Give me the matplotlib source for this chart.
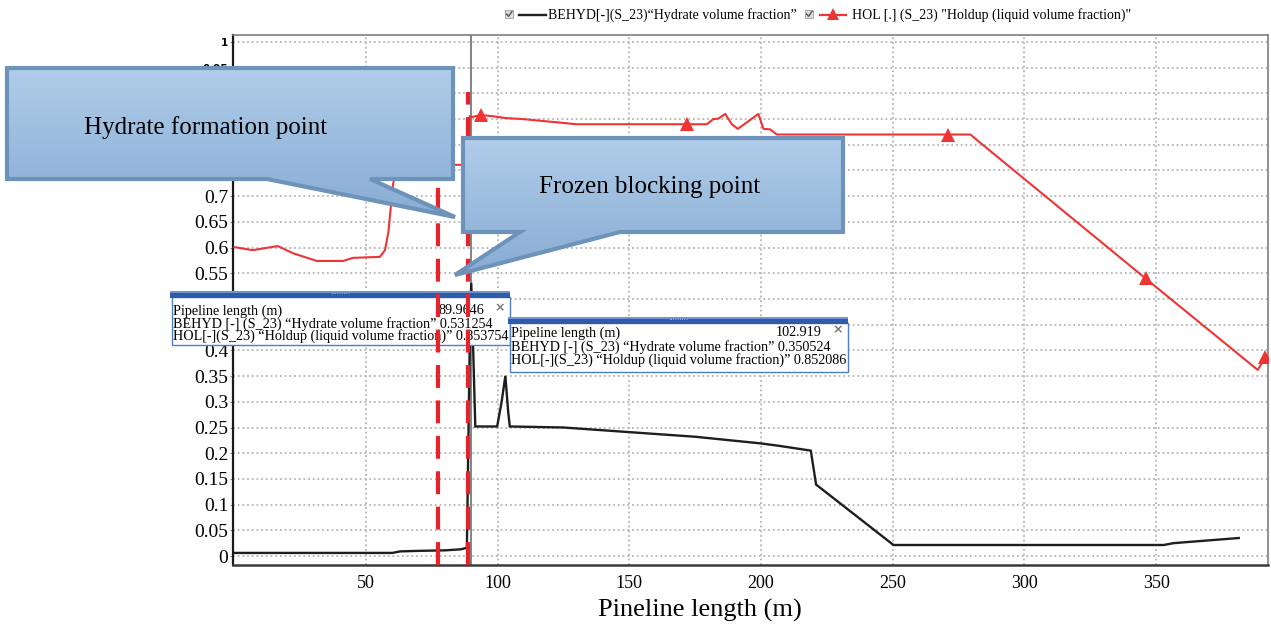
import numpy as np
import matplotlib
matplotlib.use("Agg")
import matplotlib.pyplot as plt
from matplotlib.patches import Polygon, Rectangle

# ---------------- data ----------------
beh_x = [0, 30, 60, 63, 70, 80, 86, 88.3, 89.5, 89.9646, 90.6, 91.5, 99.8, 101.5,
         102.919, 104.0, 104.6, 125, 150, 175, 200, 207.3, 218.9, 220.9, 250.3,
         352.9, 356.6, 381.4]
beh_y = [0.006, 0.006, 0.006, 0.009, 0.010, 0.011, 0.013, 0.016, 0.45, 0.531254, 0.42,
         0.252, 0.252, 0.30, 0.350524, 0.28, 0.252, 0.250, 0.241, 0.232, 0.219,
         0.214, 0.205, 0.139, 0.0214, 0.0214, 0.025, 0.035]

hol_x = [0, 7, 16.5, 22.3, 31.3, 41.3, 45, 55.3, 57.2, 58.5, 60.2, 61.5, 88.8, 89.4,
         89.9646, 93.7, 99, 102.919, 109.6, 119.9, 130, 172, 179.4, 181.9, 183.8,
         186.4, 188.9, 191.2, 199, 200.9, 203.5, 206, 271, 279.5, 283, 346, 388.6, 391.5]
hol_y = [0.601, 0.595, 0.603, 0.589, 0.574, 0.574, 0.580, 0.582, 0.595, 0.63, 0.72,
         0.761, 0.761, 0.856, 0.853754, 0.858, 0.855, 0.852086, 0.850, 0.845, 0.840,
         0.840, 0.840, 0.850, 0.851, 0.860, 0.840, 0.831, 0.860, 0.831, 0.830, 0.820,
         0.820, 0.820, 0.805, 0.540, 0.362, 0.387]
hol_marker_x = [93.7, 172, 271, 346, 391.5]

cursor_x = 89.9646
formation_x = 77.3
blocking_x = 88.8
formation_top = 0.78
blocking_top = 0.903

x_ticks = [50, 100, 150, 200, 250, 300, 350]
y_ticks = [round(0.05 * i, 2) for i in range(21)]

legend_labels = ['BEHYD[-](S_23)\u201cHydrate volume fraction\u201d',
                 'HOL [.] (S_23) "Holdup (liquid volume fraction)"']
tip1_lines = ['Pipeline length (m)',
              'BEHYD [-] (S_23) \u201cHydrate volume fraction\u201d 0.531254',
              'HOL[-](S_23) \u201cHoldup (liquid volume fraction)\u201d 0.853754']
tip1_value = '89.9646'
tip2_lines = ['Pipeline length (m)',
              'BEHYD [-] (S_23) \u201cHydrate volume fraction\u201d 0.350524',
              'HOL[-](S_23) \u201cHoldup (liquid volume fraction)\u201d 0.852086']
tip2_value = '102.919'
callout1_text = 'Hydrate formation point'
callout2_text = 'Frozen blocking point'
x_label = 'Pineline length (m)'

SERIF = 'Liberation Serif'
W, H = 1271, 624

# ---------------- figure ----------------
fig = plt.figure(figsize=(W / 100, H / 100), dpi=100)
fig.patch.set_facecolor('white')

ax = fig.add_axes([233 / W, (H - 565) / H, 1035 / W, 530 / H], zorder=1)
ax.set_xlim(-0.5, 392.5)
ax.set_ylim(-0.0175, 1.0136)

ax.set_xticks(x_ticks)
ax.set_xticklabels([str(t) for t in x_ticks], fontfamily=SERIF, fontsize=13)
ax.set_yticks(y_ticks)
ylabels = ['0' if t == 0 else ('1' if t == 1 else ('%g' % t)) for t in y_ticks]
ax.set_yticklabels(ylabels, fontfamily=SERIF, fontsize=14)
for lbl in ax.get_yticklabels():
    if lbl.get_text() in ('1', '0.95'):
        lbl.set_fontfamily('DejaVu Sans')
        lbl.set_fontsize(7.5)
        lbl.set_fontweight('bold')
ax.tick_params(axis='y', length=2.5, pad=1, color='#888888')
ax.tick_params(axis='x', length=0, pad=7)

ax.grid(True, color='#b4b4b4', linestyle=(0, (1, 1.6)), linewidth=1.3, zorder=0)
ax.set_axisbelow(True)

for side in ('top', 'right'):
    ax.spines[side].set_color('#7f7f7f')
    ax.spines[side].set_linewidth(1.2)
ax.spines['left'].set_color('#1a1a1a')
ax.spines['left'].set_linewidth(1.6)
ax.spines['bottom'].set_color('#3a3a3a')
ax.spines['bottom'].set_linewidth(1.8)

ax.axvline(cursor_x, color='#7a7a7a', lw=1.3, zorder=2)
ax.plot(beh_x, beh_y, color='#1e1e1e', lw=1.7, zorder=3, solid_joinstyle='miter')
mark_idx = [hol_x.index(v) for v in hol_marker_x]
ax.plot(hol_x, hol_y, color='#ee3434', lw=1.5, zorder=3, marker='^',
        markevery=mark_idx, markersize=10, markeredgewidth=0)

fig.text(700 / W, 1 - 610 / H, x_label, ha='center', va='center',
         fontfamily=SERIF, fontsize=19)

# ---------------- overlay 1: tooltips + legend ----------------
ov1 = fig.add_axes([0, 0, 1, 1], zorder=2)
ov1.set_xlim(0, W)
ov1.set_ylim(H, 0)
ov1.axis('off')
ov1.patch.set_alpha(0)


def tooltip(axo, x0, x1, ytop, ybot, lines, value, value_right, line_ys):
    axo.add_patch(Rectangle((x0 + 2, ytop + 6), x1 - x0 - 2, ybot - ytop - 6,
                            facecolor='white', edgecolor='#4f7cc4', lw=1.0))
    axo.add_patch(Rectangle((x0, ytop), x1 - x0, 6.5, facecolor='#2f5ca8',
                            edgecolor='none'))
    axo.add_patch(Rectangle((x0, ytop), x1 - x0, 1.5, facecolor='#6f95d0',
                            edgecolor='none'))
    xm = (x0 + x1) / 2
    axo.text(xm, ytop + 3, '\u00b7' * 9, ha='center', va='center', color='#c9d6ee',
             fontsize=5, fontfamily='DejaVu Sans')
    for s, yy in zip(lines, line_ys):
        axo.text(x0 + 3, yy, s, ha='left', va='center', fontfamily=SERIF,
                 fontsize=10.2, color='black')
    axo.text(value_right, line_ys[0], value, ha='right', va='center',
             fontfamily=SERIF, fontsize=10.2, color='black')
    axo.text(x1 - 10, line_ys[0] - 3, '\u00d7', ha='center', va='center',
             fontfamily='DejaVu Sans', fontsize=9, color='#777777', fontweight='bold')


tooltip(ov1, 170, 510, 291, 345, tip1_lines, tip1_value, 484, [311, 324, 336])
tooltip(ov1, 508, 848, 317, 372, tip2_lines, tip2_value, 822, [333, 347, 360])


def checkbox(axo, x, y):
    axo.add_patch(Rectangle((x, y), 8, 8, facecolor='#dcdcdc', edgecolor='#a0a0a0', lw=0.6))
    axo.plot([x + 1.5, x + 3.5, x + 7], [y + 4, y + 6.3, y + 1.5], color='#555555', lw=1.0)


checkbox(ov1, 505, 10)
ov1.plot([519, 546], [14.5, 14.5], color='#222222', lw=1.7)
ov1.text(548, 15, legend_labels[0], ha='left', va='center', fontfamily=SERIF, fontsize=10)
checkbox(ov1, 805, 10)
ov1.plot([820, 846], [14.5, 14.5], color='#ee3434', lw=1.6)
ov1.plot([833], [13.5], marker='^', color='#ee3434', markersize=8, markeredgewidth=0)
ov1.text(852, 15, legend_labels[1], ha='left', va='center', fontfamily=SERIF, fontsize=10)
ov1.set_xlim(0, W)
ov1.set_ylim(H, 0)

# ---------------- dashed marker lines (same data scale as main axes) ----------------
axd = fig.add_axes(ax.get_position(), zorder=3)
axd.set_xlim(ax.get_xlim())
axd.set_ylim(ax.get_ylim())
axd.axis('off')
axd.patch.set_alpha(0)
ylo = ax.get_ylim()[0]
for xv, top in ((formation_x, formation_top), (blocking_x, blocking_top)):
    axd.plot([xv, xv], [ylo, top], color='#e8222a', lw=3.0, dashes=(5.5, 3),
             solid_capstyle='butt', dash_capstyle='butt')
axd.set_xlim(ax.get_xlim())
axd.set_ylim(ax.get_ylim())

# ---------------- overlay 2: callouts ----------------
ov2 = fig.add_axes([0, 0, 1, 1], zorder=4)
ov2.axis('off')
ov2.patch.set_alpha(0)

top_c = np.array([0xb0, 0xcd, 0xea]) / 255
bot_c = np.array([0x88, 0xac, 0xd3]) / 255


def callout(axo, pts, text, tx, ty):
    xs = [p[0] for p in pts]
    ys = [p[1] for p in pts]
    t = np.linspace(0, 1, 256)[:, None, None]
    grad = top_c[None, None, :] * (1 - t) + bot_c[None, None, :] * t
    poly = Polygon(pts, closed=True, facecolor='none', edgecolor='#6e93ba',
                   lw=3.0, joinstyle='miter', zorder=3)
    axo.add_patch(poly)
    im = axo.imshow(grad, extent=(min(xs), max(xs), max(ys), min(ys)),
                    aspect='auto', origin='upper', zorder=2, interpolation='bilinear')
    im.set_clip_path(poly)
    axo.text(tx, ty, text, ha='center', va='center', fontfamily=SERIF,
             fontsize=18, color='black', zorder=4)


callout(ov2, [(7, 68), (453, 68), (453, 179), (370, 179), (455, 217), (267, 179), (7, 179)],
        callout1_text, 206, 128)
callout(ov2, [(463, 138), (843, 138), (843, 232), (620, 232), (455, 275), (520, 232), (463, 232)],
        callout2_text, 650, 187)
ov2.set_xlim(0, W)
ov2.set_ylim(H, 0)

fig.savefig('out.png', dpi=100)
